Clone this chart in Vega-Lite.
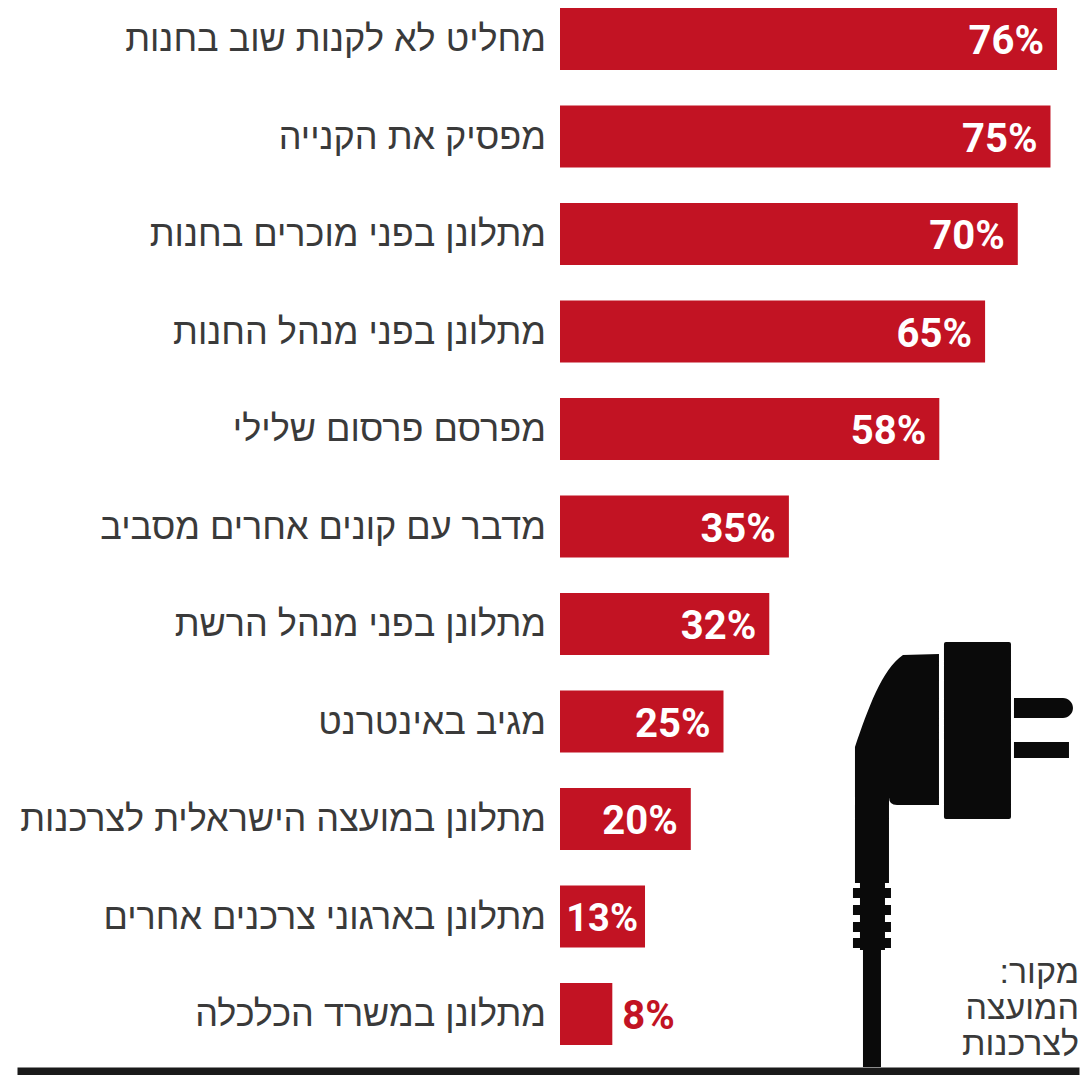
{
  "$schema": "https://vega.github.io/schema/vega-lite/v6.json",
  "autosize": {"type": "none"},
  "padding": {"left": 17, "top": 0, "right": 6, "bottom": 4},
  "width": 1062,
  "height": 1071,
  "background": "white",
  "config": {"view": {"stroke": null}},
  "data": {
    "values": [
      {"action": "מחליט לא לקנות שוב בחנות", "share": 76},
      {"action": "מפסיק את הקנייה", "share": 75},
      {"action": "מתלונן בפני מוכרים בחנות", "share": 70},
      {"action": "מתלונן בפני מנהל החנות", "share": 65},
      {"action": "מפרסם פרסום שלילי", "share": 58},
      {"action": "מדבר עם קונים אחרים מסביב", "share": 35},
      {"action": "מתלונן בפני מנהל הרשת", "share": 32},
      {"action": "מגיב באינטרנט", "share": 25},
      {"action": "מתלונן במועצה הישראלית לצרכנות", "share": 20},
      {"action": "מתלונן בארגוני צרכנים אחרים", "share": 13},
      {"action": "מתלונן במשרד הכלכלה", "share": 8}
    ]
  },
  "encoding": {
    "y": {
      "field": "action",
      "type": "nominal",
      "sort": null,
      "axis": null,
      "scale": {"range": [-9.75, 1062.75], "paddingInner": 0.364, "paddingOuter": 0.182}
    }
  },
  "layer": [
    {
      "mark": {"type": "bar", "color": "#c21323"},
      "encoding": {
        "x": {
          "field": "share",
          "type": "quantitative",
          "scale": {"domain": [-83.03, 79.36], "nice": false, "zero": false},
          "axis": {
            "title": null,
            "labels": false,
            "ticks": false,
            "grid": false,
            "domain": true,
            "domainColor": "#1a1a1a",
            "domainWidth": 8
          }
        }
      }
    },
    {
      "mark": {
        "type": "text",
        "align": "right",
        "baseline": "middle",
        "dx": -14,
        "dy": 1,
        "font": "Liberation Sans",
        "fontSize": 36,
        "color": "#3a3a3a"
      },
      "encoding": {
        "x": {"datum": 0, "type": "quantitative"},
        "text": {"field": "action"}
      }
    },
    {
      "transform": [{"filter": "datum.share >= 20"}, {"calculate": "datum.share + '%'", "as": "label"}],
      "mark": {
        "type": "text",
        "align": "right",
        "baseline": "middle",
        "dx": -13,
        "dy": 3,
        "font": "Roboto",
        "fontWeight": "bold",
        "fontSize": 40,
        "color": "white"
      },
      "encoding": {
        "x": {"field": "share", "type": "quantitative"},
        "text": {"field": "label"}
      }
    },
    {
      "transform": [{"filter": "datum.share >= 10 && datum.share < 20"}, {"calculate": "datum.share + '%'", "as": "label"}],
      "mark": {
        "type": "text",
        "align": "right",
        "baseline": "middle",
        "dx": -7,
        "dy": 3,
        "font": "Roboto",
        "fontWeight": "bold",
        "fontSize": 38,
        "color": "white"
      },
      "encoding": {
        "x": {"field": "share", "type": "quantitative"},
        "text": {"field": "label"}
      }
    },
    {
      "transform": [{"filter": "datum.share < 10"}, {"calculate": "datum.share + '%'", "as": "label"}],
      "mark": {
        "type": "text",
        "align": "left",
        "baseline": "middle",
        "dx": 10,
        "dy": 3,
        "font": "Roboto",
        "fontWeight": "bold",
        "fontSize": 40,
        "color": "#c21323"
      },
      "encoding": {
        "x": {"field": "share", "type": "quantitative"},
        "text": {"field": "label"}
      }
    },
    {
      "data": {"values": [{"anchorShare": 61.16, "anchorRow": "מתלונן במועצה הישראלית לצרכנות"}]},
      "mark": {
        "type": "point",
        "filled": true,
        "opacity": 1,
        "color": "#0a0a0a",
        "size": 4,
        "shape": "M-105,-72 C-92,-110 -78,-150 -57,-164 L-21,-165 L-21,-14 L-63,-14 Q-71,-14 -71,-22 L-71,64 L-105,64 Z M-100,61 H-75 V131 H-100 Z M-107,69 H-69 V79 H-107 Z M-107,86 H-69 V96 H-107 Z M-107,103 H-69 V113 H-107 Z M-107,119 H-69 V129 H-107 Z M-97,129 H-79 V248 H-97 Z M-14,-177 H49 Q51,-177 51,-175 V-2 Q51,0 49,0 H-14 Q-16,0 -16,-2 V-175 Q-16,-177 -14,-177 Z M54,-121 H103 A10,10 0 0 1 103,-101 H54 Z M54,-77 H109 V-61 H54 Z"
      },
      "encoding": {
        "x": {"field": "anchorShare", "type": "quantitative"},
        "y": {"field": "anchorRow", "type": "nominal", "sort": null, "axis": null}
      }
    },
    {
      "data": {"values": [{"anchorShare": 79.36, "anchorRow": "מתלונן במשרד הכלכלה"}]},
      "mark": {
        "type": "text",
        "align": "right",
        "baseline": "alphabetic",
        "dy": -31,
        "font": "Liberation Sans",
        "fontSize": 34,
        "lineHeight": 36,
        "color": "#3a3a3a",
        "text": ["\u200fמקור:\u200f", "המועצה", "לצרכנות"]
      },
      "encoding": {
        "x": {"field": "anchorShare", "type": "quantitative"},
        "y": {"field": "anchorRow", "type": "nominal", "sort": null, "axis": null}
      }
    }
  ]
}
